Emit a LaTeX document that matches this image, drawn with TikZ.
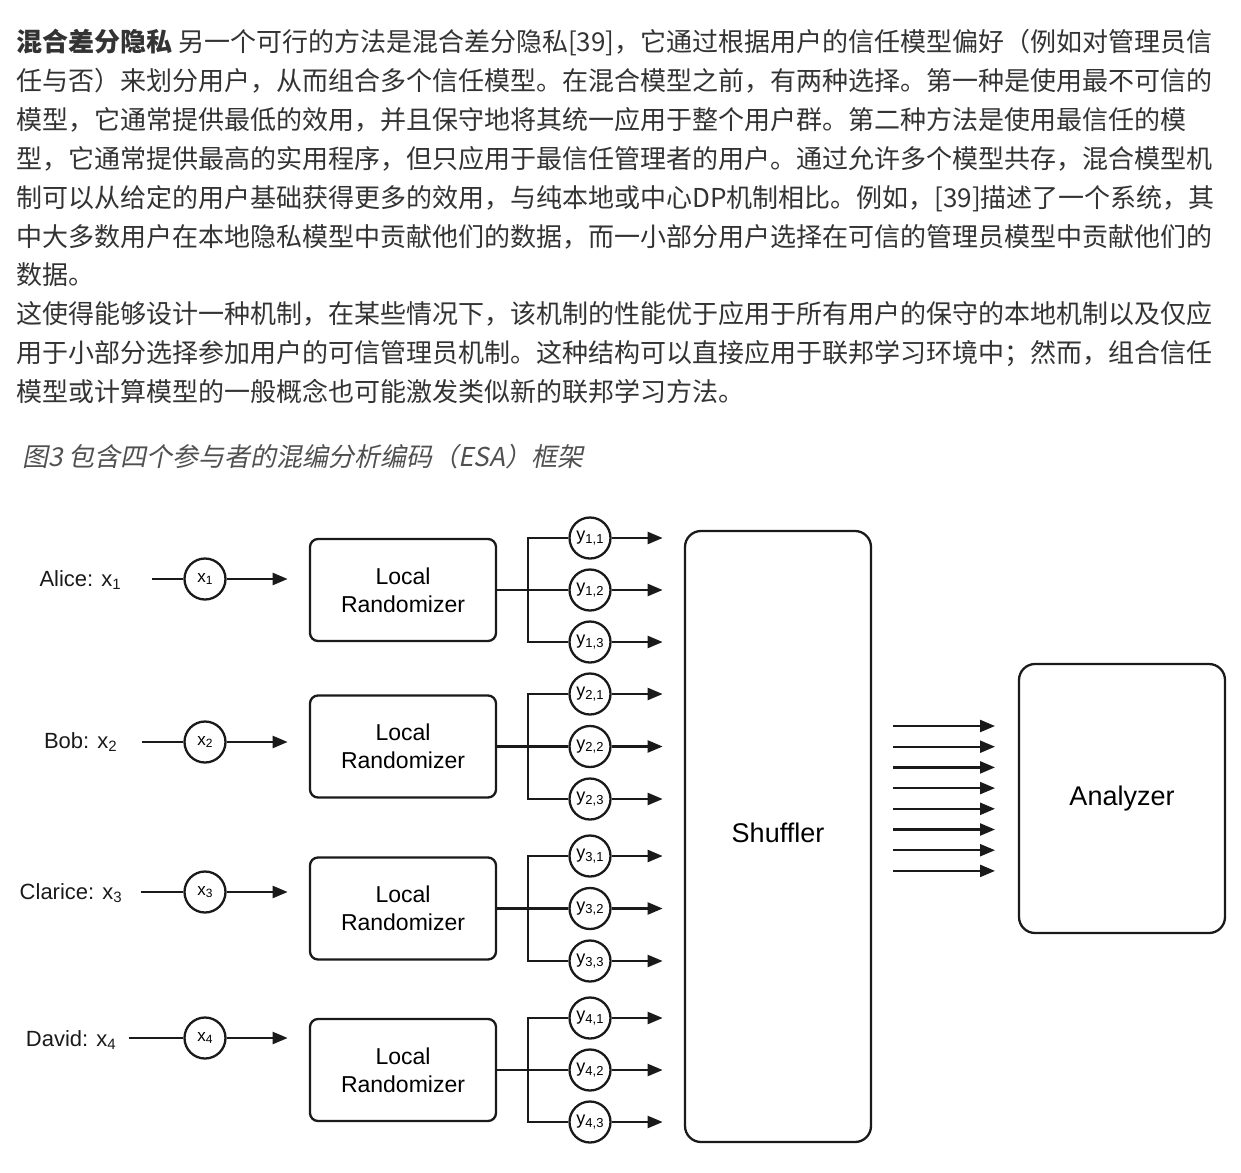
\documentclass[tikz,border=0pt]{standalone}
\usepackage{fontspec}
\setmainfont{Noto Sans CJK SC}
\newfontfamily\figfont{Liberation Sans}
\newfontfamily\capfont[FakeSlant=0.2]{Noto Sans CJK SC}
\usepackage{xcolor}
\usetikzlibrary{arrows.meta,positioning}

\definecolor{bodytext}{HTML}{333333}
\definecolor{captext}{HTML}{505050}
\definecolor{ink}{HTML}{1A1A1A}

\newcommand{\lowidx}[2][14]{\raisebox{-0.3ex}{\fontsize{#1}{#1}\selectfont #2}}

\begin{document}
\begin{tikzpicture}[
  x=1pt, y=-1pt,
  para/.style={anchor=base west, inner sep=0pt, text=bodytext,
               font=\fontsize{26}{30}\selectfont},
  figcap/.style={anchor=base west, inner sep=0pt, text=captext,
              font=\capfont\fontsize{26}{30}\selectfont},
  who/.style={anchor=base east, inner sep=0pt, text=ink,
              font=\figfont\fontsize{22}{26}\selectfont},
  xin/.style={circle, draw=ink, line width=2.3pt, minimum size=41pt,
              inner sep=0pt, font=\figfont\fontsize{17}{17}\selectfont},
  yout/.style={xin, font=\figfont\fontsize{18}{18}\selectfont},
  rnd/.style={rectangle, draw=ink, line width=2.3pt, rounded corners=8pt,
              minimum width=186pt, minimum height=102pt, align=center,
              font=\figfont\fontsize{23}{28}\selectfont},
  big/.style={rectangle, draw=ink, line width=2.3pt, rounded corners=16pt,
              font=\figfont\fontsize{27}{30}\selectfont},
  wire/.style={draw=ink, line width=2.3pt},
  arr/.style={wire, -{Triangle[length=15pt, width=12pt]}}
]
\useasboundingbox (0,0) rectangle (1241,1172);

% text above the figure
\node[para] (par1) at (16,52) {{\bfseries 混合差分隐私} 另一个可行的方法是混合差分隐私[39]，它通过根据用户的信任模型偏好（例如对管理员信};
\node[para] (par2) at (16,90.8) {任与否）来划分用户，从而组合多个信任模型。在混合模型之前，有两种选择。第一种是使用最不可信的};
\node[para] (par3) at (16,129.6) {模型，它通常提供最低的效用，并且保守地将其统一应用于整个用户群。第二种方法是使用最信任的模};
\node[para] (par4) at (16,168.4) {型，它通常提供最高的实用程序，但只应用于最信任管理者的用户。通过允许多个模型共存，混合模型机};
\node[para] (par5) at (16,207.2) {制可以从给定的用户基础获得更多的效用，与纯本地或中心DP机制相比。例如，[39]描述了一个系统，其};
\node[para] (par6) at (16,246) {中大多数用户在本地隐私模型中贡献他们的数据，而一小部分用户选择在可信的管理员模型中贡献他们的};
\node[para] (par7) at (16,284.8) {数据。};
\node[para] (par8) at (16,323.6) {这使得能够设计一种机制，在某些情况下，该机制的性能优于应用于所有用户的保守的本地机制以及仅应};
\node[para] (par9) at (16,362.4) {用于小部分选择参加用户的可信管理员机制。这种结构可以直接应用于联邦学习环境中；然而，组合信任};
\node[para] (par10) at (16,401.2) {模型或计算模型的一般概念也可能激发类似新的联邦学习方法。};
\node[figcap] (fig3) at (22,466) {图3 包含四个参与者的混编分析编码（ESA）框架};

% users and their inputs
\node[who] (alice) at (121,586) {Alice: x\lowidx[15]{1}};
\node[who] (bob) at (117,748) {Bob: x\lowidx[15]{2}};
\node[who] (clarice) at (122,899) {Clarice: x\lowidx[15]{3}};
\node[who] (david) at (116,1046) {David: x\lowidx[15]{4}};

\node[xin] (x1) at (205,579) {x\lowidx[12]{1}};
\node[xin] (x2) at (205,742) {x\lowidx[12]{2}};
\node[xin] (x3) at (205,892) {x\lowidx[12]{3}};
\node[xin] (x4) at (205,1038) {x\lowidx[12]{4}};

\coordinate[left=31pt of x1] (x1a);
\coordinate[left=41pt of x2] (x2a);
\coordinate[left=42pt of x3] (x3a);
\coordinate[left=54pt of x4] (x4a);
\coordinate[right=61pt of x1] (x1b);
\coordinate[right=61pt of x2] (x2b);
\coordinate[right=61pt of x3] (x3b);
\coordinate[right=61pt of x4] (x4b);

\draw[wire] (x1a) -- (x1);
\draw[wire] (x2a) -- (x2);
\draw[wire] (x3a) -- (x3);
\draw[wire] (x4a) -- (x4);
\draw[arr] (x1) -- (x1b);
\draw[arr] (x2) -- (x2b);
\draw[arr] (x3) -- (x3b);
\draw[arr] (x4) -- (x4b);

% local randomizers
\node[rnd] (r1) at (403,590) {Local\\Randomizer};
\node[rnd] (r2) at (403,746.5) {Local\\Randomizer};
\node[rnd] (r3) at (403,908.5) {Local\\Randomizer};
\node[rnd] (r4) at (403,1070) {Local\\Randomizer};

% randomized outputs
\node[yout] (y11) at (590,538) {y\lowidx[13]{1,1}};
\node[yout] (y12) at (590,590) {y\lowidx[13]{1,2}};
\node[yout] (y13) at (590,642) {y\lowidx[13]{1,3}};
\node[yout] (y21) at (590,694) {y\lowidx[13]{2,1}};
\node[yout] (y22) at (590,746.5) {y\lowidx[13]{2,2}};
\node[yout] (y23) at (590,799) {y\lowidx[13]{2,3}};
\node[yout] (y31) at (590,856) {y\lowidx[13]{3,1}};
\node[yout] (y32) at (590,908.5) {y\lowidx[13]{3,2}};
\node[yout] (y33) at (590,961) {y\lowidx[13]{3,3}};
\node[yout] (y41) at (590,1018) {y\lowidx[13]{4,1}};
\node[yout] (y42) at (590,1070) {y\lowidx[13]{4,2}};
\node[yout] (y43) at (590,1122) {y\lowidx[13]{4,3}};

\coordinate (b1) at (528,590);
\coordinate (b2) at (528,746.5);
\coordinate (b3) at (528,908.5);
\coordinate (b4) at (528,1070);

\draw[wire] (r1) -- (y12);
\draw[wire] (y11) -| (b1) |- (y13);
\draw[wire] (r2) -- (y22);
\draw[wire] (y21) -| (b2) |- (y23);
\draw[wire] (r3) -- (y32);
\draw[wire] (y31) -| (b3) |- (y33);
\draw[wire] (r4) -- (y42);
\draw[wire] (y41) -| (b4) |- (y43);

\foreach \k in {11,12,13,21,22,23,31,32,33,41,42,43} {
  \coordinate[right=51pt of y\k] (o\k);
  \draw[arr] (y\k) -- (o\k);
}

% shuffler and analyzer
\node[big, minimum width=186pt, minimum height=611pt, text depth=8pt] (shuf) at (778,836.5) {Shuffler};
\node[big, minimum width=206pt, minimum height=269pt] (anlz) at (1122,798.5) {Analyzer};

\foreach \i in {0,...,7} {
  \coordinate (s\i) at (893,726+20.7*\i);
  \coordinate (t\i) at (995,726+20.7*\i);
  \draw[arr] (s\i) -- (t\i);
}
\end{tikzpicture}
\end{document}
